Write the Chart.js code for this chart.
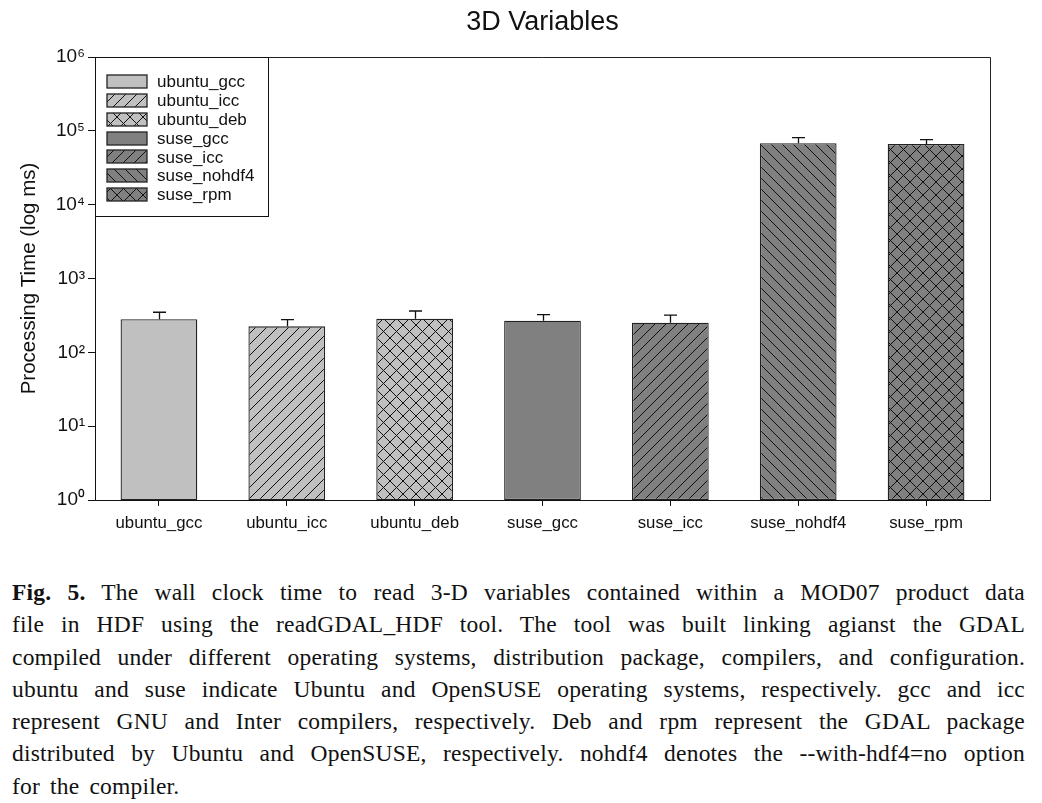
<!DOCTYPE html>
<html>
<head>
<meta charset="utf-8">
<script src="https://cdn.jsdelivr.net/npm/chart.js@4/dist/chart.umd.min.js"></script>
<style>
  html, body { margin: 0; padding: 0; background: #fff; }
  #wrap { position: relative; width: 1042px; height: 550px; }
  #caption {
    margin: 26px 0 0 12px; width: 1013px;
    font-family: "Liberation Serif", "Times New Roman", serif;
    font-size: 23.5px; letter-spacing: 0.2px; line-height: 32.3px; color: #111;
  }
  #caption .ln { text-align: justify; text-align-last: justify; white-space: nowrap; }
  #caption .last { text-align: left; text-align-last: left; word-spacing: 4px; }
</style>
</head>
<body>
<div id="wrap"><canvas id="c" width="1042" height="550"></canvas></div>
<div id="caption">
  <div class="ln"><b>Fig. 5.</b> The wall clock time to read 3-D variables contained within a MOD07 product data</div>
  <div class="ln">file in HDF using the readGDAL_HDF tool. The tool was built linking agianst the GDAL</div>
  <div class="ln">compiled under different operating systems, distribution package, compilers, and configuration.</div>
  <div class="ln">ubuntu and suse indicate Ubuntu and OpenSUSE operating systems, respectively. gcc and icc</div>
  <div class="ln">represent GNU and Inter compilers, respectively. Deb and rpm represent the GDAL package</div>
  <div class="ln">distributed by Ubuntu and OpenSUSE, respectively. nohdf4 denotes the --with-hdf4=no option</div>
  <div class="last">for the compiler.</div>
</div>
<script>
// ---- data ----
const categories = ['ubuntu_gcc', 'ubuntu_icc', 'ubuntu_deb', 'suse_gcc', 'suse_icc', 'suse_nohdf4', 'suse_rpm'];
const times      = [280, 225, 286, 268, 252, 67800, 66400];      // processing time (ms)
const errorUpper = [349, 277, 363, 324, 320, 80700, 75900];      // top of error bar (ms)
const yTicks      = [1, 10, 100, 1000, 10000, 100000, 1000000];
const yTickLabels = ['10\u2070', '10\u00B9', '10\u00B2', '10\u00B3', '10\u2074', '10\u2075', '10\u2076'];

// ---- styles ----
const baseColors = ['#c0c0c0', '#c0c0c0', '#c0c0c0', '#808080', '#808080', '#808080', '#808080'];
const hatchTypes = ['none', 'fwd', 'cross', 'none', 'fwd', 'back', 'cross'];
const FONT = '"Liberation Sans", Arial, sans-serif';

function makePattern(bg, type) {
  if (type === 'none') return bg;
  const s = type === 'cross' ? 13 : 11;
  const cv = document.createElement('canvas');
  cv.width = s; cv.height = s;
  const g = cv.getContext('2d');
  g.fillStyle = bg; g.fillRect(0, 0, s, s);
  g.strokeStyle = '#111'; g.lineWidth = 1;
  const fwd = () => {
    g.beginPath();
    g.moveTo(-1, s + 1); g.lineTo(s + 1, -1);
    g.moveTo(-1, 1); g.lineTo(1, -1);
    g.moveTo(s - 1, s + 1); g.lineTo(s + 1, s - 1);
    g.stroke();
  };
  const back = () => {
    g.beginPath();
    g.moveTo(-1, -1); g.lineTo(s + 1, s + 1);
    g.moveTo(s - 1, -1); g.lineTo(s + 1, 1);
    g.moveTo(-1, s - 1); g.lineTo(1, s + 1);
    g.stroke();
  };
  if (type === 'fwd' || type === 'cross') fwd();
  if (type === 'back' || type === 'cross') back();
  return g.createPattern(cv, 'repeat');
}
const fills = baseColors.map((c, i) => makePattern(c, hatchTypes[i]));

// frame (top/right) + error bars + inside legend
const extras = {
  id: 'extras',
  afterDatasetsDraw(chart) {
    const ctx = chart.ctx, y = chart.scales.y;
    const meta = chart.getDatasetMeta(0);
    ctx.save();
    ctx.strokeStyle = '#111'; ctx.lineWidth = 1.3;
    meta.data.forEach((bar, i) => {
      const yt = y.getPixelForValue(errorUpper[i]);
      const x = Math.round(bar.x) + 0.5;
      ctx.beginPath();
      ctx.moveTo(x, bar.y); ctx.lineTo(x, yt);
      ctx.moveTo(x - 6.5, yt); ctx.lineTo(x + 6.5, yt);
      ctx.stroke();
    });
    ctx.restore();
  },
  afterDraw(chart) {
    const ctx = chart.ctx, a = chart.chartArea;
    ctx.save();
    ctx.strokeStyle = '#222'; ctx.lineWidth = 1;
    ctx.beginPath();
    ctx.moveTo(a.left, a.top + 0.5); ctx.lineTo(a.right + 0.5, a.top + 0.5); ctx.lineTo(a.right + 0.5, a.bottom);
    ctx.stroke();
    // legend box
    const lx = a.left, ly = a.top + 0.5, lw = 173, lh = 159;
    ctx.fillStyle = '#fff';
    ctx.fillRect(lx + 1, ly + 1, lw - 1, lh - 1);
    ctx.strokeStyle = '#111';
    ctx.strokeRect(lx + 0.5, ly, lw, lh);
    ctx.font = '17px ' + FONT;
    ctx.textBaseline = 'middle';
    categories.forEach((name, i) => {
      const cy = 81.7 + i * 18.8;
      ctx.fillStyle = fills[i];
      ctx.fillRect(107, Math.round(cy - 6.5), 40, 13);
      ctx.strokeStyle = '#222'; ctx.lineWidth = 1.3;
      ctx.strokeRect(107, Math.round(cy - 6.5), 40, 13);
      ctx.fillStyle = '#111';
      ctx.fillText(name, 157, cy + 1);
    });
    ctx.restore();
  }
};

new Chart(document.getElementById('c'), {
  type: 'bar',
  data: {
    labels: categories,
    datasets: [{
      label: 'Processing Time',
      data: times,
      backgroundColor: fills,
      borderColor: '#222',
      borderWidth: 1.3,
      borderSkipped: false,
      barPercentage: 0.6,
      categoryPercentage: 1.0
    }]
  },
  plugins: [extras],
  options: {
    responsive: false,
    animation: false,
    layout: { padding: { left: 0, right: 52, top: 0, bottom: 0 } },
    plugins: {
      legend: { display: false },
      tooltip: { enabled: false },
      title: {
        display: true, text: '3D Variables', color: '#111', fullSize: false,
        font: { family: FONT, size: 27, weight: 'normal', lineHeight: 1.2 },
        padding: { top: 6, bottom: 18.6 }
      }
    },
    scales: {
      x: {
        grid: { display: true, drawOnChartArea: false, drawTicks: true, tickLength: 6, offset: false, color: '#111' },
        border: { display: true, color: '#111', width: 1 },
        ticks: { color: '#111', font: { family: FONT, size: 16.8 }, padding: 7, maxRotation: 0, autoSkip: false },
        afterFit(s) { s.height = 50; }
      },
      y: {
        type: 'logarithmic',
        min: 1, max: 1000000,
        grid: { display: true, drawOnChartArea: false, drawTicks: true, tickLength: 7, color: '#111' },
        border: { display: true, color: '#111', width: 1 },
        afterBuildTicks(s) { s.ticks = yTicks.map(v => ({ value: v, major: true })); },
        ticks: {
          color: '#111', font: { family: FONT, size: 19 }, padding: 3,
          callback: (v) => { const i = yTicks.indexOf(v); return i >= 0 ? yTickLabels[i] : ''; }
        },
        title: {
          display: true, text: 'Processing Time (log ms)', color: '#111',
          font: { family: FONT, size: 20.5, lineHeight: 1.2 },
          padding: { top: 17, bottom: 0 }
        },
        afterFit(s) { s.width = 95; }
      }
    }
  }
});
</script>
</body>
</html>
